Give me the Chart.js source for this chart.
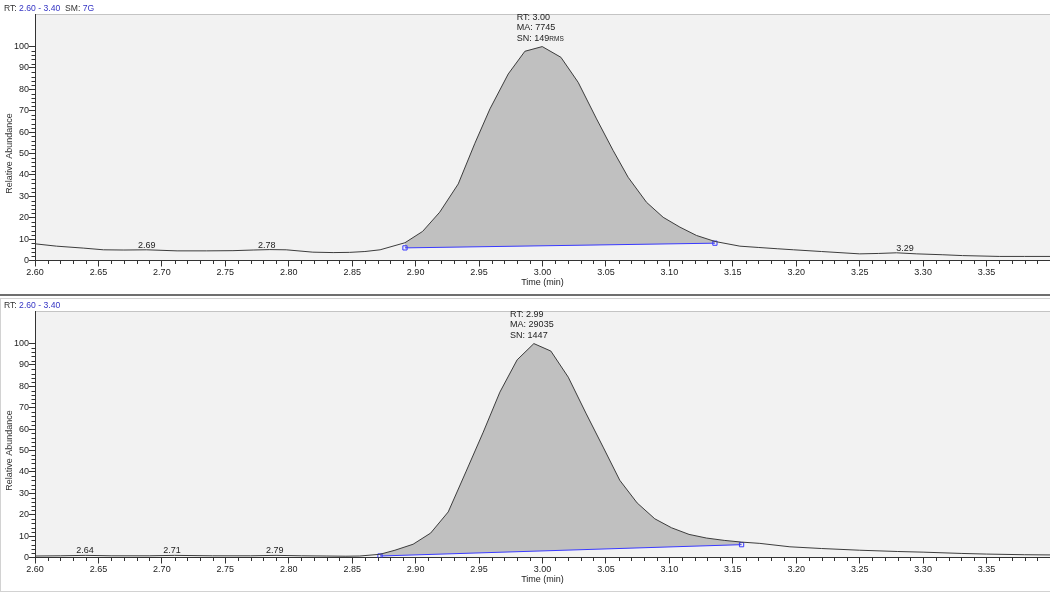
<!DOCTYPE html>
<html>
<head>
<meta charset="utf-8">
<title>Chromatogram</title>
<script src="https://cdn.jsdelivr.net/npm/chart.js@4.4.0/dist/chart.umd.min.js"></script>
<style>
	body { margin: 0; background: #fff; width: 1050px; height: 594px; position: relative; overflow: hidden; }
	#c1 { position: absolute; left: 0; top: 0; }
	#sep { position: absolute; left: 0; top: 294px; width: 1050px; height: 2px; background: #6e6e6e; }
	#frame2 { position: absolute; left: 0; top: 298px; width: 1049px; height: 292px; border: 1px solid #d2d2d2; border-right: none; }
	#c2 { position: absolute; left: 0; top: 298px; }
</style>
</head>
<body>
<canvas id="c1" width="1050" height="292"></canvas>
<div id="sep"></div>
<div id="frame2"></div>
<canvas id="c2" width="1050" height="293"></canvas>
<script>
var FONT = '"Liberation Sans", Arial, sans-serif';

// shared axis ticks
var xTicks = [2.60, 2.65, 2.70, 2.75, 2.80, 2.85, 2.90, 2.95, 3.00, 3.05, 3.10, 3.15, 3.20, 3.25, 3.30, 3.35];
var yTicks = [0, 10, 20, 30, 40, 50, 60, 70, 80, 90, 100];

// top trace (RT 2.60 - 3.40, SM 7G)
var topTimes = [2.600, 2.617, 2.638, 2.654, 2.670, 2.688, 2.712, 2.735, 2.756, 2.772, 2.785, 2.798, 2.819, 2.835, 2.848, 2.860, 2.872,
	2.8916, 2.9055, 2.919, 2.9336, 2.9467, 2.9586, 2.973, 2.9861, 2.9998, 3.0145, 3.0281, 3.0426, 3.0557, 3.0675, 3.082, 3.0951,
	3.1083, 3.1214, 3.1359, 3.1556, 3.170, 3.185, 3.198, 3.220, 3.250, 3.265, 3.279, 3.295, 3.315, 3.331, 3.360, 3.380, 3.400];
var topValues = [7.8, 6.7, 5.8, 5.0, 4.9, 5.0, 4.5, 4.5, 4.6, 4.9, 5.1, 5.0, 3.9, 3.7, 3.8, 4.2, 5.0,
	8.3, 13.6, 22.6, 35.8, 54.8, 70.9, 87.2, 97.8, 100, 95.0, 83.3, 66.2, 51.4, 38.9, 27.2, 20.2,
	15.6, 11.7, 8.9, 6.7, 6.1, 5.5, 5.0, 4.2, 3.1, 3.3, 3.6, 3.1, 2.7, 2.3, 1.9, 1.9, 1.9];
var topBaseTimes = [2.8916, 3.1359];
var topBaseValues = [5.9, 8.1];
var topLabelTimes = [2.688, 2.7826, 3.2857];
var topApex = 2.9998;
var topInfo = ['RT: 3.00', 'MA: 7745', 'SN: 149'];
var topInfoSmall = 'RMS';
var topHeader = [['RT: ', '#333'], ['2.60 - 3.40', '#3434c4'], ['  SM: ', '#333'], ['7G', '#3434c4']];

// bottom trace (RT 2.60 - 3.40)
var botTimes = [2.600, 2.620, 2.640, 2.660, 2.690, 2.710, 2.740, 2.770, 2.790, 2.810, 2.830, 2.845, 2.856,
	2.8719, 2.8837, 2.898, 2.9118, 2.9257, 2.9396, 2.9533, 2.9664, 2.980, 2.9932, 3.0066, 3.0203, 3.0342, 3.0478,
	3.0609, 3.0746, 3.0885, 3.1017, 3.1155, 3.1292, 3.1432, 3.1569, 3.1713, 3.195, 3.220, 3.250, 3.280, 3.300,
	3.330, 3.350, 3.380, 3.400];
var botValues = [0.7, 0.8, 1.0, 0.8, 0.8, 1.0, 0.8, 0.8, 1.0, 0.8, 0.7, 0.6, 0.7,
	1.5, 3.4, 6.2, 11.4, 21.3, 40.0, 58.6, 77.3, 92.4, 100, 96.5, 84.3, 67.5, 51.6,
	36.1, 25.5, 18.1, 13.9, 10.8, 9.1, 8.0, 7.2, 6.6, 5.0, 4.2, 3.4, 2.8, 2.5,
	1.9, 1.6, 1.3, 1.2];
var botBaseTimes = [2.8719, 3.1569];
var botBaseValues = [0.7, 6.0];
var botLabelTimes = [2.6394, 2.708, 2.789];
var botApex = 2.9932;
var botInfo = ['RT: 2.99', 'MA: 29035', 'SN: 1447'];
var botInfoSmall = '';
var botHeader = [['RT: ', '#333'], ['2.60 - 3.40', '#3434c4']];

function toPoints(times, values) {
	return times.map(function(t, i) { return {x: t, y: values[i]}; });
}

function valueAt(times, values, t) {
	for (var i = 1; i < times.length; i++) {
		if (t <= times[i]) {
			var f = (t - times[i - 1]) / (times[i] - times[i - 1]);
			return values[i - 1] + f * (values[i] - values[i - 1]);
		}
	}
	return values[values.length - 1];
}

function makeChart(id, p) {
	var peakTimes = [], peakValues = [];
	for (var i = 0; i < p.times.length; i++) {
		if (p.times[i] >= p.baseTimes[0] && p.times[i] <= p.baseTimes[1]) {
			peakTimes.push(p.times[i]);
			peakValues.push(p.values[i]);
		}
	}

	var decor = {
		id: 'decor',
		beforeDraw: function(chart) {
			var ctx = chart.ctx, a = chart.chartArea;
			ctx.save();
			ctx.fillStyle = '#f2f2f2';
			ctx.fillRect(a.left, a.top, a.right - a.left, a.bottom - a.top);
			ctx.strokeStyle = '#c4c4c4';
			ctx.lineWidth = 1;
			ctx.beginPath();
			ctx.moveTo(a.left, Math.floor(a.top) + 0.5);
			ctx.lineTo(a.right, Math.floor(a.top) + 0.5);
			ctx.stroke();
			ctx.restore();
		},
		afterDraw: function(chart) {
			var ctx = chart.ctx, a = chart.chartArea;
			var xs = chart.scales.x, ys = chart.scales.y;
			ctx.save();

			// minor ticks
			ctx.strokeStyle = '#333';
			ctx.lineWidth = 1;
			ctx.beginPath();
			for (var k = 0; k <= 80; k++) {
				if (k % 5 == 0) continue;
				var px = Math.round(xs.getPixelForValue(2.60 + k * 0.01)) + 0.5;
				ctx.moveTo(px, a.bottom);
				ctx.lineTo(px, a.bottom + 3.5);
			}
			for (var v = 2; v < 100; v += 2) {
				if (v % 10 == 0) continue;
				var py = Math.round(ys.getPixelForValue(v)) + 0.5;
				ctx.moveTo(a.left - 3.5, py);
				ctx.lineTo(a.left, py);
			}
			ctx.stroke();

			// header
			ctx.font = '8.6px ' + FONT;
			ctx.textBaseline = 'middle';
			ctx.textAlign = 'left';
			var hx = 4;
			p.header.forEach(function(h) {
				ctx.fillStyle = h[1];
				ctx.fillText(h[0], hx, p.headerY);
				hx += ctx.measureText(h[0]).width;
			});

			ctx.font = '9px ' + FONT;
			// y title
			ctx.fillStyle = '#333';
			ctx.save();
			ctx.translate(10, ys.getPixelForValue(50));
			ctx.rotate(-Math.PI / 2);
			ctx.textAlign = 'center';
			ctx.fillText('Relative Abundance', 0, 0);
			ctx.restore();

			// small peak labels
			ctx.textAlign = 'center';
			ctx.textBaseline = 'alphabetic';
			ctx.fillStyle = '#222';
			p.labelTimes.forEach(function(t) {
				var y = ys.getPixelForValue(valueAt(p.times, p.values, t)) - 2;
				ctx.fillText(t.toFixed(2), xs.getPixelForValue(t), y);
			});

			// apex annotation
			var ax = xs.getPixelForValue(p.apex);
			var ay = ys.getPixelForValue(valueAt(p.times, p.values, p.apex));
			var widths = p.info.map(function(s, i) {
				var w = ctx.measureText(s).width;
				if (i == 2 && p.infoSmall) {
					ctx.font = '6.5px ' + FONT;
					w += ctx.measureText(p.infoSmall).width;
					ctx.font = '9px ' + FONT;
				}
				return w;
			});
			var left = ax - Math.max.apply(null, widths) / 2 - 2;
			ctx.textAlign = 'left';
			var offs = [27, 16.5, 5.5];
			p.info.forEach(function(s, i) {
				ctx.fillText(s, left, ay - offs[i]);
				if (i == 2 && p.infoSmall) {
					var w = ctx.measureText(s).width;
					ctx.font = '6.5px ' + FONT;
					ctx.fillText(p.infoSmall, left + w, ay - offs[i]);
					ctx.font = '9px ' + FONT;
				}
			});
			ctx.restore();
		}
	};

	return new Chart(document.getElementById(id), {
		type: 'line',
		data: {
			datasets: [
				{
					data: toPoints(p.times, p.values),
					borderColor: '#3c3c3c',
					borderWidth: 1,
					pointRadius: 0,
					fill: false,
					order: 0
				},
				{
					data: toPoints(peakTimes, peakValues),
					borderColor: 'rgba(0,0,0,0)',
					backgroundColor: '#c0c0c0',
					pointRadius: 0,
					fill: 2,
					order: 2
				},
				{
					data: toPoints(p.baseTimes, p.baseValues),
					borderColor: '#3a3aff',
					borderWidth: 1,
					pointStyle: 'rect',
					pointRadius: 3,
					pointBorderColor: '#3a3aff',
					pointBackgroundColor: 'rgba(0,0,0,0)',
					pointBorderWidth: 1,
					fill: false,
					order: 1
				}
			]
		},
		options: {
			responsive: false,
			animation: false,
			events: [],
			layout: { autoPadding: false, padding: { top: p.topPad, left: 0, right: 0, bottom: 0 } },
			plugins: { legend: { display: false }, tooltip: { enabled: false } },
			elements: { line: { tension: 0 } },
			scales: {
				x: {
					type: 'linear',
					min: 2.60,
					max: 3.40,
					afterBuildTicks: function(s) { s.ticks = xTicks.map(function(v) { return {value: v}; }); },
					afterFit: function(s) {
						s.height = p.xHeight;
						s.paddingLeft = 0;
						s.paddingRight = 0;
					},
					ticks: {
						autoSkip: false,
						maxRotation: 0,
						padding: 1,
						color: '#222',
						font: { size: 9, family: FONT },
						callback: function(v) { return v.toFixed(2); }
					},
					grid: { drawOnChartArea: false, tickLength: 6, tickColor: '#333' },
					border: { color: '#333', width: 1 },
					title: {
						display: true,
						text: 'Time (min)',
						color: '#222',
						font: { size: 9, family: FONT },
						padding: { top: 0, bottom: p.titlePad }
					}
				},
				y: {
					type: 'linear',
					min: 0,
					max: 115,
					afterBuildTicks: function(s) { s.ticks = yTicks.map(function(v) { return {value: v}; }); },
					afterFit: function(s) {
						s.width = 35;
						s.paddingTop = 0;
						s.paddingBottom = 0;
					},
					ticks: {
						padding: 0,
						color: '#222',
						font: { size: 9, family: FONT }
					},
					grid: { drawOnChartArea: false, tickLength: 6, tickColor: '#333' },
					border: { color: '#333', width: 1 }
				}
			}
		},
		plugins: [decor]
	});
}

makeChart('c1', {
	times: topTimes, values: topValues,
	baseTimes: topBaseTimes, baseValues: topBaseValues,
	labelTimes: topLabelTimes, apex: topApex,
	info: topInfo, infoSmall: topInfoSmall,
	header: topHeader, headerY: 9,
	topPad: 14.5, xHeight: 31.5, titlePad: 3.6
});

makeChart('c2', {
	times: botTimes, values: botValues,
	baseTimes: botBaseTimes, baseValues: botBaseValues,
	labelTimes: botLabelTimes, apex: botApex,
	info: botInfo, infoSmall: botInfoSmall,
	header: botHeader, headerY: 8,
	topPad: 13.5, xHeight: 33.5, titlePad: 5.6
});
</script>
</body>
</html>
